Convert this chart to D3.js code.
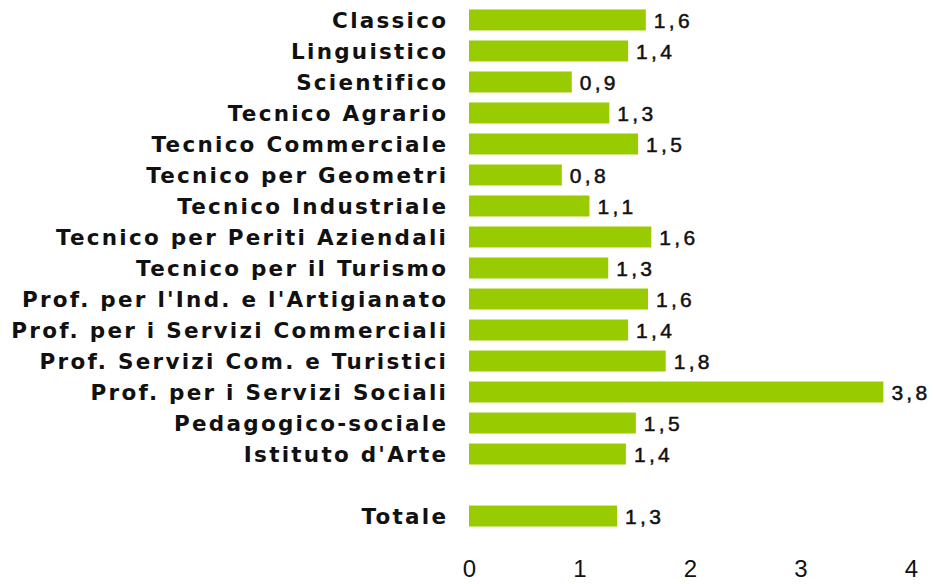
<!DOCTYPE html>
<html><head><meta charset="utf-8">
<script src="https://cdn.jsdelivr.net/npm/d3@7"></script>
<style>body{margin:0;background:#fff}</style>
</head><body>
<svg id="c" width="933" height="584"></svg>
<script>
const categories = ["Classico","Linguistico","Scientifico","Tecnico Agrario","Tecnico Commerciale","Tecnico per Geometri","Tecnico Industriale","Tecnico per Periti Aziendali","Tecnico per il Turismo","Prof. per l'Ind. e l'Artigianato","Prof. per i Servizi Commerciali","Prof. Servizi Com. e Turistici","Prof. per i Servizi Sociali","Pedagogico-sociale","Istituto d'Arte","","Totale"];
const values = [1.60,1.44,0.93,1.27,1.53,0.84,1.09,1.65,1.26,1.62,1.44,1.78,3.75,1.51,1.42,null,1.34];
const tickValues = [0,1,2,3,4];

const svg = d3.select("#c");
const x = d3.scaleLinear().domain([0,4]).range([469,911]);
const y = d3.scaleBand().domain(d3.range(categories.length)).range([4.5,531.5]).paddingInner(0.323).paddingOuter(0.16);
const fmt = v => d3.format(".1f")(v).replace(".", ",");

const rows = categories.map((c,i)=>({c, v: values[i], i})).filter(d=>d.c!=="");

svg.selectAll("rect.bar").data(rows).join("rect")
  .attr("class","bar")
  .attr("x", x(0)).attr("y", d=>y(d.i))
  .attr("width", d=>x(d.v)-x(0)).attr("height", y.bandwidth())
  .attr("fill","#99CC00");

svg.selectAll("text.cat").data(rows).join("text")
  .attr("class","cat")
  .attr("x", x(0)-23+2.25).attr("y", d=>y(d.i)+y.bandwidth()/2)
  .attr("dy","0.36em").attr("text-anchor","end")
  .attr("font-family","DejaVu Sans").attr("font-weight","bold").attr("font-size","21.5px")
  .attr("letter-spacing","2.25px")
  .attr("fill","#111")
  .text(d=>d.c);

svg.selectAll("text.val").data(rows).join("text")
  .attr("class","val")
  .attr("x", d=>x(d.v)+8).attr("y", d=>y(d.i)+y.bandwidth()/2)
  .attr("dy","0.36em")
  .attr("font-family","Liberation Sans").attr("font-size","21px").attr("letter-spacing","3.3px")
  .attr("fill","#111").attr("stroke","#111").attr("stroke-width",0.5)
  .text(d=>fmt(d.v));

const ax = svg.append("g").attr("transform","translate(0,560)")
  .call(d3.axisBottom(x).tickValues(tickValues).tickSize(0).tickPadding(0).tickFormat(d=>d));
ax.select(".domain").remove();
ax.selectAll("text").attr("font-family","Liberation Sans").attr("font-size","24px").attr("fill","#111").attr("dy","0.71em");
</script>
</body></html>
